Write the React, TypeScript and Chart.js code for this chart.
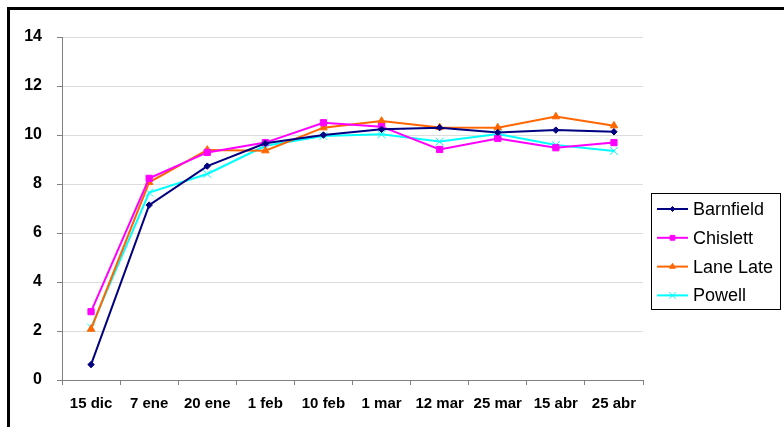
import React, { useEffect, useRef } from "react";
import { Chart, registerables } from "chart.js";
import { drawPoint } from "chart.js/helpers";

Chart.register(...registerables);

const categories = ["15 dic", "7 ene", "20 ene", "1 feb", "10 feb", "1 mar", "12 mar", "25 mar", "15 abr", "25 abr"];
const barnfield = [0.63, 7.14, 8.73, 9.66, 10.0, 10.23, 10.3, 10.1, 10.2, 10.13];
const chislett = [2.79, 8.23, 9.29, 9.69, 10.5, 10.34, 9.41, 9.86, 9.48, 9.69];
const laneLate = [2.08, 8.07, 9.39, 9.36, 10.3, 10.57, 10.31, 10.3, 10.75, 10.38];
const powell = [2.14, 7.65, 8.41, 9.56, 9.96, 10.03, 9.73, 10.04, 9.59, 9.35];
const seriesNames = ["Barnfield", "Chislett", "Lane Late", "Powell"];
const yTicks = [0, 2, 4, 6, 8, 10, 12, 14];

const FONT = "'Liberation Sans', Arial, Helvetica, sans-serif";

const framePlugin = {
  id: "frame",
  beforeDraw(chart: any) {
    const ctx = chart.ctx;
    ctx.save();
    ctx.fillStyle = "#ffffff";
    ctx.fillRect(0, 0, chart.width, chart.height);
    ctx.fillStyle = "#000000";
    ctx.fillRect(7, 7, chart.width - 7, 3);
    ctx.fillRect(7, 7, 3, chart.height - 7);
    ctx.restore();
  },
};

const legendPlugin = {
  id: "customLegend",
  afterDraw(chart: any) {
    const ctx = chart.ctx;
    const bx = 651, by = 193, bw = 129, bh = 116;
    ctx.save();
    ctx.strokeStyle = "#000000";
    ctx.lineWidth = 1;
    ctx.strokeRect(bx + 0.5, by + 0.5, bw, bh);
    ctx.font = `18px ${FONT}`;
    ctx.textBaseline = "middle";
    ctx.textAlign = "left";
    chart.data.datasets.forEach((ds: any, i: number) => {
      const y = by + 16 + i * 28.8;
      ctx.strokeStyle = ds.borderColor;
      ctx.lineWidth = 2;
      ctx.beginPath();
      ctx.moveTo(657, y);
      ctx.lineTo(688, y);
      ctx.stroke();
      ctx.fillStyle = ds.pointBackgroundColor;
      ctx.strokeStyle = ds.pointBorderColor;
      ctx.lineWidth = 1;
      drawPoint(
        ctx,
        { pointStyle: ds.pointStyle, rotation: 0, borderWidth: 1, radius: Math.max(2.5, ds.pointRadius - 1) },
        672.5,
        y
      );
      ctx.fillStyle = "#000000";
      ctx.fillText(ds.label, 693, y + 1);
    });
    ctx.restore();
  },
};

export default function App() {
  const ref = useRef<HTMLCanvasElement>(null);
  useEffect(() => {
    if (!ref.current) return;
    const mk = (label: string, data: number[], color: string, style: string, radius: number) => ({
      label,
      data,
      borderColor: color,
      backgroundColor: color,
      pointBackgroundColor: color,
      pointBorderColor: color,
      pointStyle: style,
      pointRadius: radius,
      pointBorderWidth: 1,
      borderWidth: 2,
      tension: 0,
    });
    const chart = new Chart(ref.current, {
      type: "line",
      data: {
        labels: categories,
        datasets: [
          mk(seriesNames[0], barnfield, "#000080", "rectRot", 3.2),
          mk(seriesNames[1], chislett, "#FF00FF", "rect", 4.4),
          mk(seriesNames[2], laneLate, "#FF6600", "triangle", 4.3),
          mk(seriesNames[3], powell, "#00FFFF", "crossRot", 5.5),
        ],
      },
      options: {
        responsive: false,
        animation: false,
        devicePixelRatio: 1,
        layout: { padding: { left: 0, top: 37, right: 141, bottom: 0 } },
        plugins: { legend: { display: false }, tooltip: { enabled: false } },
        scales: {
          x: {
            offset: true,
            grid: {
              offset: true,
              drawOnChartArea: false,
              drawTicks: true,
              tickLength: 5,
              tickColor: "#808080",
            },
            border: { color: "#808080", width: 1 },
            ticks: {
              autoSkip: false,
              maxRotation: 0,
              minRotation: 0,
              padding: 10,
              color: "#000000",
              font: { family: FONT, size: 15, weight: "bold" },
            },
            afterFit(scale: any) {
              scale.height = 47;
            },
          },
          y: {
            min: 0,
            max: 14,
            afterBuildTicks(scale: any) {
              scale.ticks = yTicks.map((v) => ({ value: v }));
            },
            grid: {
              color: "#dcdcdc",
              lineWidth: 1,
              drawTicks: true,
              tickLength: 5,
              tickColor: "#808080",
            },
            border: { color: "#808080", width: 1 },
            ticks: {
              padding: 15,
              color: "#000000",
              font: { family: FONT, size: 16, weight: "bold" },
            },
            afterFit(scale: any) {
              scale.width = 62;
            },
          },
        },
      },
      plugins: [framePlugin, legendPlugin],
    } as any);
    return () => chart.destroy();
  }, []);
  return (
    <canvas
      ref={ref}
      width={784}
      height={427}
      style={{ position: "fixed", left: 0, top: 0, width: 784, height: 427 }}
    />
  );
}
